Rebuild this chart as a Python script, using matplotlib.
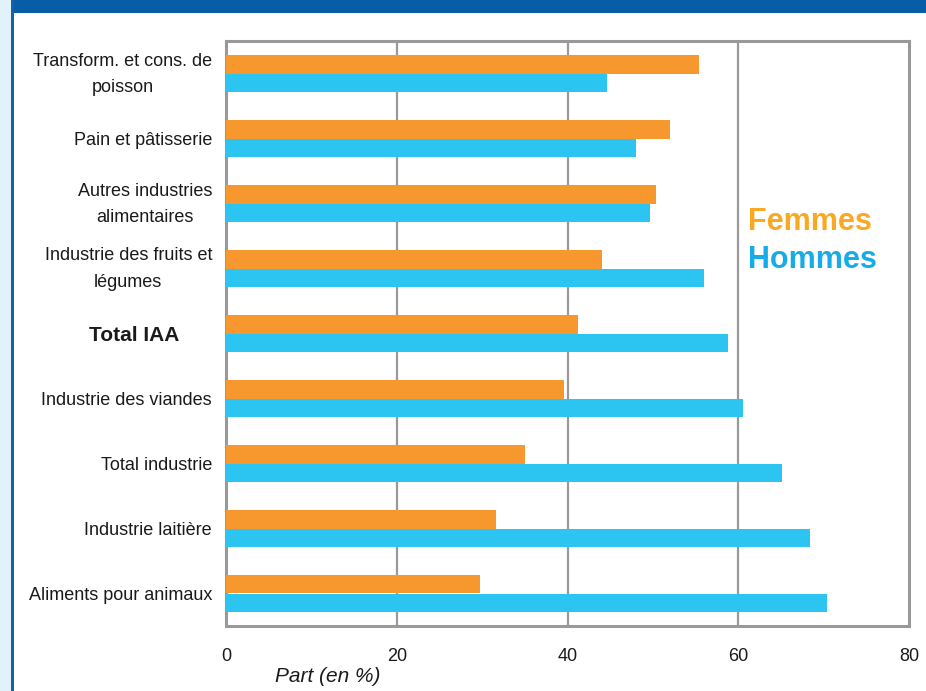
import matplotlib
matplotlib.use("Agg")
import matplotlib.pyplot as plt
import matplotlib.transforms as mtransforms
from matplotlib.patches import Rectangle
import numpy as np

plt.rcParams['font.family'] = ['Liberation Sans', 'DejaVu Sans']

# data (share in %)
categories = [
    "Transform. et cons. de\npoisson",
    "Pain et pâtisserie",
    "Autres industries\nalimentaires",
    "Industrie des fruits et\nlégumes",
    "Total IAA",
    "Industrie des viandes",
    "Total industrie",
    "Industrie laitière",
    "Aliments pour animaux",
]
femmes = [55.4, 52.0, 50.4, 44.0, 41.2, 39.6, 35.0, 31.6, 29.8]
hommes = [44.6, 48.0, 49.7, 56.0, 58.8, 60.6, 65.1, 68.4, 70.4]
xticks = [0, 20, 40, 60, 80]

ORANGE = '#F7982F'
BLUE = '#2CC5F2'
GRID = '#999999'

fig = plt.figure(figsize=(9.26, 6.91), dpi=100)
fig.patch.set_facecolor('white')

# page decoration: top band, left strip and its border line
W, H = 926, 691
fig.patches.append(Rectangle((0, 0), 11 / W, 1, transform=fig.transFigure,
                             facecolor='#E1F2FB', edgecolor='none', zorder=0))
fig.patches.append(Rectangle((11 / W, 1 - 13 / H), 1, 13 / H, transform=fig.transFigure,
                             facecolor='#075DA6', edgecolor='none', zorder=0))
fig.patches.append(Rectangle((11 / W, 0), 2.5 / W, 1, transform=fig.transFigure,
                             facecolor='#1660AA', edgecolor='none', zorder=0))

ax = fig.add_axes([226 / W, 1 - 626 / H, (909 - 226) / W, (626 - 41) / H])

y = np.arange(len(categories))
h = 0.285
ax.barh(y - h / 2, femmes, height=h, color=ORANGE, zorder=3)
ax.barh(y + h / 2, hommes, height=h, color=BLUE, zorder=3)

ax.set_xlim(0, 80)
ax.set_ylim(len(categories) - 0.5, -0.5)
ax.set_xticks(xticks)
ax.set_xticklabels([str(v) for v in xticks], fontsize=13)
ax.set_yticks(y)
ax.set_yticklabels(categories, fontsize=13, linespacing=1.7, multialignment='center')
ax.tick_params(axis='both', length=0, colors='#1a1a1a')
ax.tick_params(axis='x', pad=16)
ax.tick_params(axis='y', pad=10)

for v in xticks[1:-1]:
    ax.axvline(v, color=GRID, lw=1.6, zorder=2)
for s in ax.spines.values():
    s.set_color(GRID)
    s.set_linewidth(2.2)

# two-line labels sit centred on their group
for lab in ax.get_yticklabels():
    if '\n' in lab.get_text():
        lab.set_transform(lab.get_transform() + mtransforms.ScaledTranslation(0, 6 / 100, fig.dpi_scale_trans))

# "Total IAA" in bold, a bit larger, shifted to the left
lab = ax.get_yticklabels()[4]
lab.set_fontweight('bold')
lab.set_fontsize(15)
lab.set_transform(lab.get_transform() + mtransforms.ScaledTranslation(-33 / 100, 0, fig.dpi_scale_trans))

fig.text(328 / W, 1 - 676 / H, "Part (en %)", style='italic', fontsize=15,
         ha='center', va='center', color='#1a1a1a')

ax.text(61.1, 2.41, "Femmes", color='#F9A822', fontsize=22, fontweight='bold',
        ha='left', va='baseline')
ax.text(61.1, 2.99, "Hommes", color='#17ACE8', fontsize=22, fontweight='bold',
        ha='left', va='baseline')

fig.savefig("out.png", dpi=100)
